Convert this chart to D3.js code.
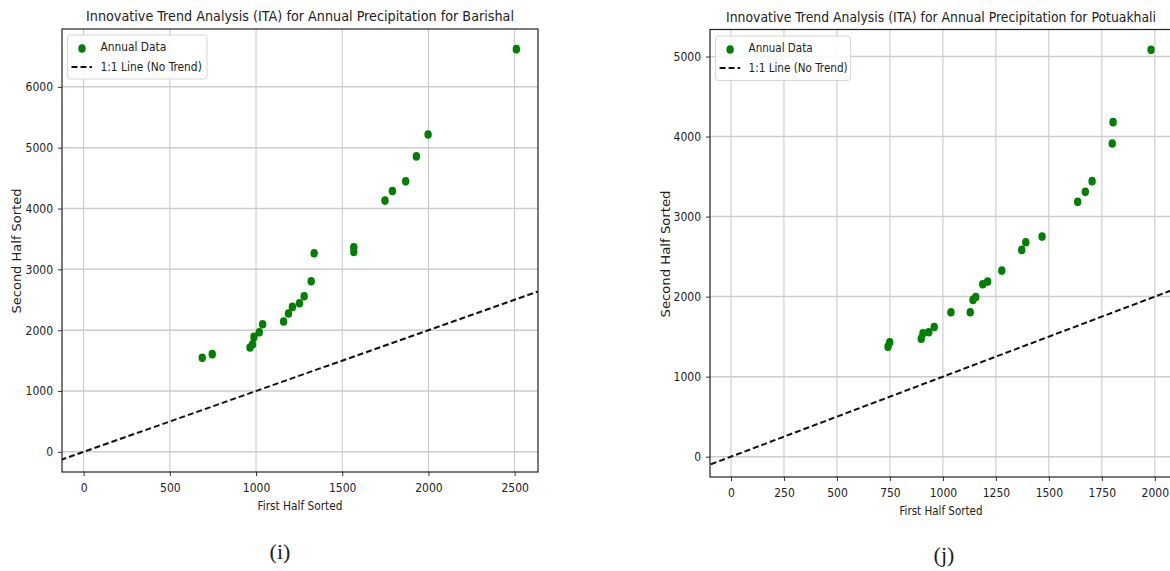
<!DOCTYPE html>
<html>
<head>
<meta charset="utf-8">
<script src="https://cdn.jsdelivr.net/npm/d3@7"></script>
<style>
  html, body { margin: 0; padding: 0; background: #fff; }
  svg { display: block; }
  text { font-family: "DejaVu Sans Condensed", "DejaVu Sans", sans-serif; fill: #222; }
</style>
</head>
<body>
<svg id="chart" width="1170" height="571"></svg>
<script>
// ---- Data ----
const barishalFirst  = [688, 746, 965, 980, 988, 1019, 1038, 1160, 1188, 1211, 1252, 1279, 1320, 1337, 1567, 1567, 1748, 1791, 1868, 1930, 1998, 2510];
const barishalSecond = [1545, 1606, 1716, 1770, 1890, 1967, 2098, 2143, 2274, 2383, 2443, 2558, 2805, 3264, 3363, 3286, 4130, 4287, 4447, 4857, 5218, 6620];
const potuakhaliFirst  = [741, 749, 898, 906, 933, 959, 1038, 1129, 1142, 1155, 1188, 1211, 1278, 1372, 1391, 1468, 1636, 1672, 1704, 1799, 1803, 1982];
const potuakhaliSecond = [1375, 1430, 1475, 1543, 1555, 1621, 1805, 1805, 1959, 1996, 2155, 2188, 2325, 2584, 2680, 2750, 3184, 3309, 3443, 3913, 4180, 5084];
const barishalXTicks = [0, 500, 1000, 1500, 2000, 2500];
const barishalYTicks = [0, 1000, 2000, 3000, 4000, 5000, 6000];
const potuakhaliXTicks = [0, 250, 500, 750, 1000, 1250, 1500, 1750, 2000];
const potuakhaliYTicks = [0, 1000, 2000, 3000, 4000, 5000];
const titles = [
  "Innovative Trend Analysis (ITA) for Annual Precipitation for Barishal",
  "Innovative Trend Analysis (ITA) for Annual Precipitation for Potuakhali"
];
const xLabel = "First Half Sorted";
const yLabel = "Second Half Sorted";
const legendLabels = ["Annual Data", "1:1 Line (No Trend)"];
const captions = ["(i)", "(j)"];

const svg = d3.select("#chart");

function drawPanel(cfg) {
  const { xs, ys, xTicks, yTicks, xDomain, yDomain, box, title, caption, id } = cfg;
  const x = d3.scaleLinear().domain(xDomain).range([box.left, box.right]);
  const y = d3.scaleLinear().domain(yDomain).range([box.bottom, box.top]);
  const g = svg.append("g");

  g.append("clipPath").attr("id", "clip" + id)
    .append("rect").attr("x", box.left).attr("y", box.top)
    .attr("width", box.right - box.left).attr("height", box.bottom - box.top);

  // grid
  g.append("g").selectAll("line").data(xTicks).join("line")
    .attr("x1", d => x(d)).attr("x2", d => x(d))
    .attr("y1", box.top).attr("y2", box.bottom)
    .attr("stroke", "#c4c4c4").attr("stroke-width", 1);
  g.append("g").selectAll("line").data(yTicks).join("line")
    .attr("x1", box.left).attr("x2", box.right)
    .attr("y1", d => y(d)).attr("y2", d => y(d))
    .attr("stroke", "#cdcdcd").attr("stroke-width", 1.5);

  // axes
  const xAxis = d3.axisBottom(x).tickValues(xTicks).tickSize(4).tickPadding(7).tickFormat(d3.format("d"));
  const yAxis = d3.axisLeft(y).tickValues(yTicks).tickSize(4).tickPadding(5).tickFormat(d3.format("d"));
  const gx = g.append("g").attr("transform", `translate(0,${box.bottom})`).call(xAxis);
  const gy = g.append("g").attr("transform", `translate(${box.left},0)`).call(yAxis);
  [gx, gy].forEach(a => {
    a.select(".domain").remove();
    a.selectAll(".tick line").attr("stroke", "#333");
    a.selectAll(".tick text").attr("font-size", 12).attr("fill", "#222")
      .style("font-family", '"DejaVu Sans Condensed", "DejaVu Sans", sans-serif');
  });

  // frame
  g.append("rect").attr("x", box.left).attr("y", box.top)
    .attr("width", box.right - box.left).attr("height", box.bottom - box.top)
    .attr("fill", "none").attr("stroke", "#222").attr("stroke-width", 1.2);

  // 1:1 line
  const lo = Math.min(xDomain[0], yDomain[0]), hi = Math.max(xDomain[1], yDomain[1]);
  g.append("line").attr("clip-path", `url(#clip${id})`)
    .attr("x1", x(lo)).attr("y1", y(lo)).attr("x2", x(hi)).attr("y2", y(hi))
    .attr("stroke", "#111").attr("stroke-width", 2).attr("stroke-dasharray", "6,3");

  // points
  g.append("g").attr("clip-path", `url(#clip${id})`).selectAll("ellipse").data(xs.map((v, i) => [v, ys[i]])).join("ellipse")
    .attr("cx", d => x(d[0])).attr("cy", d => y(d[1]))
    .attr("rx", 3.7).attr("ry", 4.3).attr("fill", "#008000");

  // title
  g.append("text").attr("x", (box.left + box.right) / 2).attr("y", box.top - 8)
    .attr("text-anchor", "middle").attr("font-size", 14)
    .attr("textLength", cfg.titleLen).attr("lengthAdjust", "spacingAndGlyphs")
    .text(title);
  // x label
  g.append("text").attr("x", (box.left + box.right) / 2).attr("y", cfg.xLabelY)
    .attr("text-anchor", "middle").attr("font-size", 13)
    .attr("textLength", cfg.xLabelLen).attr("lengthAdjust", "spacingAndGlyphs")
    .text(xLabel);
  // y label
  g.append("text").attr("transform", `translate(${cfg.yLabelX},${cfg.yLabelCY}) rotate(-90)`)
    .attr("text-anchor", "middle").attr("font-size", 12.5)
    .style("font-family", '"DejaVu Sans", sans-serif')
    .attr("textLength", cfg.yLabelLen).attr("lengthAdjust", "spacingAndGlyphs")
    .text(yLabel);

  // legend
  const L = cfg.legend;
  g.append("rect").attr("x", L.x).attr("y", L.y).attr("width", L.w).attr("height", L.h)
    .attr("rx", 3).attr("fill", "#fff").attr("fill-opacity", 0.85)
    .attr("stroke", "#d6d6d6").attr("stroke-width", 1);
  g.append("ellipse").attr("cx", L.x + 14.5).attr("cy", L.y + 13.5).attr("rx", 3.7).attr("ry", 4.3).attr("fill", "#008000");
  g.append("line").attr("x1", L.x + 4).attr("x2", L.x + 24.5).attr("y1", L.y + 32).attr("y2", L.y + 32)
    .attr("stroke", "#111").attr("stroke-width", 2).attr("stroke-dasharray", "6,3");
  g.append("text").attr("x", L.x + 33).attr("y", L.y + 15.5).attr("font-size", 12)
    .attr("textLength", L.t1).attr("lengthAdjust", "spacingAndGlyphs").text(legendLabels[0]);
  g.append("text").attr("x", L.x + 33).attr("y", L.y + 36).attr("font-size", 12)
    .attr("textLength", L.t2).attr("lengthAdjust", "spacingAndGlyphs").text(legendLabels[1]);

  // caption
  g.append("text").attr("x", cfg.capX).attr("y", cfg.capY).attr("text-anchor", "middle")
    .attr("font-size", 22).style("font-family", '"Liberation Serif", "Times New Roman", serif').attr("fill", "#000")
    .text(caption);
}

drawPanel({
  id: 0, xs: barishalFirst, ys: barishalSecond, xTicks: barishalXTicks, yTicks: barishalYTicks,
  xDomain: [-125.5, 2635.5], yDomain: [-331, 6951],
  box: { left: 62, right: 538, top: 29, bottom: 472 },
  title: titles[0], titleLen: 428, caption: captions[0],
  xLabelY: 510, xLabelLen: 85, yLabelX: 21, yLabelCY: 251, yLabelLen: 125,
  legend: { x: 67.5, y: 35, w: 139.5, h: 44, t1: 65.7, t2: 101.3 },
  capX: 280, capY: 559
});

drawPanel({
  id: 1, xs: potuakhaliFirst, ys: potuakhaliSecond, xTicks: potuakhaliXTicks, yTicks: potuakhaliYTicks,
  xDomain: [-99, 2081], yDomain: [-254, 5338],
  box: { left: 710, right: 1172, top: 29.5, bottom: 477 },
  title: titles[1], titleLen: 430, caption: captions[1],
  xLabelY: 515, xLabelLen: 83, yLabelX: 670, yLabelCY: 254, yLabelLen: 127,
  legend: { x: 715.6, y: 36, w: 135, h: 44.5, t1: 64, t2: 99 },
  capX: 944, capY: 562
});
</script>
</body>
</html>
